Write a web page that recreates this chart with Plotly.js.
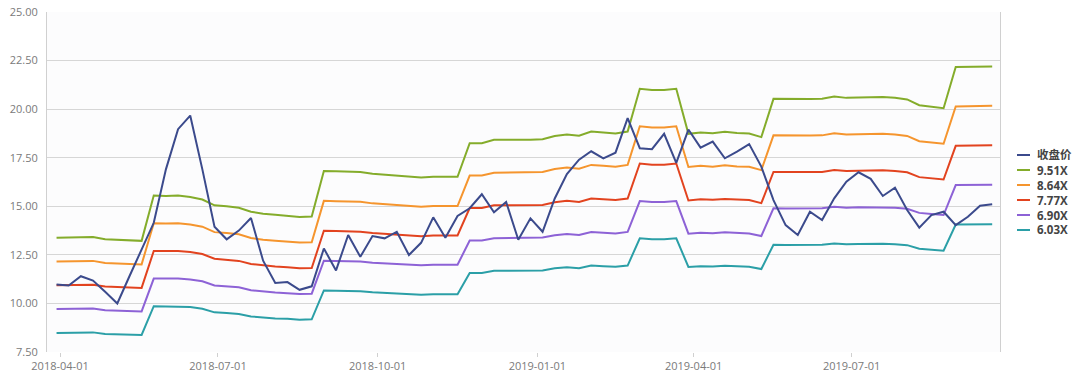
<!DOCTYPE html>
<html>
<head>
<meta charset="utf-8">
<script src="https://cdn.plot.ly/plotly-3.0.1.min.js"></script>
<style>html,body{margin:0;padding:0;background:#fff;}#chart{width:1080px;height:377px;}</style>
</head>
<body>
<div id="chart"></div>
<script>
const dates = ["2018-03-30","2018-04-06","2018-04-13","2018-04-20","2018-04-27","2018-05-04","2018-05-11","2018-05-18","2018-05-25","2018-06-01",
"2018-06-08","2018-06-15","2018-06-22","2018-06-29","2018-07-06","2018-07-13","2018-07-20","2018-07-27","2018-08-03","2018-08-10",
"2018-08-17","2018-08-24","2018-08-31","2018-09-07","2018-09-14","2018-09-21","2018-09-28","2018-10-05","2018-10-12","2018-10-19",
"2018-10-26","2018-11-02","2018-11-09","2018-11-16","2018-11-23","2018-11-30","2018-12-07","2018-12-14","2018-12-21","2018-12-28",
"2019-01-04","2019-01-11","2019-01-18","2019-01-25","2019-02-01","2019-02-08","2019-02-15","2019-02-22","2019-03-01","2019-03-08",
"2019-03-15","2019-03-22","2019-03-29","2019-04-05","2019-04-12","2019-04-19","2019-04-26","2019-05-03","2019-05-10","2019-05-17",
"2019-05-24","2019-05-31","2019-06-07","2019-06-14","2019-06-21","2019-06-28","2019-07-05","2019-07-12","2019-07-19","2019-07-26",
"2019-08-02","2019-08-09","2019-08-16","2019-08-23","2019-08-30","2019-09-06","2019-09-13","2019-09-20"];

const closePrice = [10.98,10.92,11.40,11.18,10.60,10.00,11.40,12.75,14.15,16.90,18.97,19.67,16.90,13.95,13.30,13.75,14.40,12.20,11.05,11.10,
10.70,10.88,12.83,11.70,13.52,12.40,13.47,13.35,13.69,12.49,13.12,14.43,13.38,14.50,14.90,15.62,14.69,15.22,13.28,14.38,
13.69,15.40,16.66,17.40,17.83,17.47,17.76,19.54,17.99,17.94,18.73,17.23,18.95,18.02,18.33,17.47,17.81,18.20,17.04,15.32,
14.03,13.52,14.72,14.29,15.41,16.27,16.75,16.41,15.53,15.96,14.81,13.90,14.55,14.72,14.03,14.46,15.03,15.10];

const pe951 = [13.38,13.40,13.42,13.42,13.30,13.27,13.27,13.22,15.55,15.53,15.55,15.48,15.35,15.05,15.00,14.92,14.72,14.62,14.56,14.52,
14.45,14.47,16.82,16.80,16.78,16.76,16.68,16.63,16.58,16.53,16.48,16.52,16.52,16.52,18.25,18.25,18.42,18.42,18.41,18.42,
18.45,18.62,18.70,18.63,18.85,18.80,18.75,18.85,21.05,20.98,20.98,21.05,18.73,18.80,18.76,18.83,18.77,18.75,18.56,20.53,
20.52,20.52,20.52,20.53,20.65,20.58,20.60,20.61,20.62,20.58,20.50,20.20,20.12,20.05,22.17,22.17,22.18,22.20];

const pe864 = [12.16,12.17,12.19,12.19,12.08,12.06,12.06,12.01,14.13,14.11,14.13,14.06,13.95,13.67,13.63,13.56,13.37,13.28,13.23,13.19,
13.13,13.15,15.28,15.26,15.25,15.23,15.15,15.11,15.06,15.02,14.97,15.01,15.01,15.01,16.58,16.58,16.73,16.73,16.73,16.73,
16.76,16.92,16.99,16.93,17.13,17.08,17.03,17.13,19.12,19.06,19.06,19.12,17.02,17.08,17.04,17.11,17.05,17.03,16.86,18.65,
18.64,18.64,18.64,18.65,18.76,18.70,18.72,18.72,18.73,18.70,18.62,18.35,18.28,18.22,20.14,20.14,20.15,20.17];

const pe777 = [10.93,10.95,10.96,10.96,10.87,10.84,10.84,10.80,12.70,12.69,12.70,12.65,12.54,12.30,12.26,12.19,12.03,11.95,11.90,11.86,
11.81,11.82,13.74,13.73,13.71,13.69,13.63,13.59,13.55,13.51,13.46,13.50,13.50,13.50,14.91,14.91,15.05,15.05,15.04,15.05,
15.07,15.21,15.28,15.22,15.40,15.36,15.32,15.40,17.20,17.14,17.14,17.20,15.30,15.36,15.33,15.38,15.34,15.32,15.16,16.77,
16.77,16.77,16.77,16.77,16.87,16.81,16.83,16.84,16.85,16.81,16.75,16.50,16.44,16.38,18.11,18.11,18.12,18.14];

const pe690 = [9.71,9.72,9.74,9.74,9.65,9.63,9.63,9.59,11.28,11.27,11.28,11.23,11.14,10.92,10.88,10.83,10.68,10.61,10.56,10.53,
10.48,10.50,12.20,12.19,12.17,12.16,12.10,12.07,12.03,11.99,11.96,11.99,11.99,11.99,13.24,13.24,13.36,13.36,13.36,13.36,
13.39,13.51,13.57,13.52,13.68,13.64,13.60,13.68,15.27,15.22,15.22,15.27,13.59,13.64,13.61,13.66,13.62,13.60,13.47,14.90,
14.89,14.89,14.89,14.90,14.98,14.93,14.95,14.95,14.96,14.93,14.87,14.66,14.60,14.55,16.09,16.09,16.09,16.11];

const pe603 = [8.48,8.50,8.51,8.51,8.43,8.41,8.41,8.38,9.86,9.85,9.86,9.82,9.73,9.54,9.51,9.46,9.33,9.27,9.23,9.21,
9.16,9.18,10.67,10.65,10.64,10.63,10.58,10.54,10.51,10.48,10.45,10.47,10.47,10.47,11.57,11.57,11.68,11.68,11.67,11.68,
11.70,11.81,11.86,11.81,11.95,11.92,11.89,11.95,13.35,13.30,13.30,13.35,11.88,11.92,11.90,11.94,11.90,11.89,11.77,13.02,
13.01,13.01,13.01,13.02,13.09,13.05,13.06,13.07,13.07,13.05,13.00,12.81,12.76,12.71,14.06,14.06,14.06,14.08];

const seriesNames = ["收盘价","9.51X","8.64X","7.77X","6.90X","6.03X"];
const xTickVals = ["2018-04-01","2018-07-01","2018-10-01","2019-01-01","2019-04-01","2019-07-01"];
const yTickVals = [7.5,10,12.5,15,17.5,20,22.5,25];

const colors = ["#3b4a8c","#84ac2b","#f5952e","#e2431f","#8d62d6","#2b9fa7"];
const values = [closePrice, pe951, pe864, pe777, pe690, pe603];

const traces = [];
for (let i = 5; i >= 0; i--) {
  traces.push({
    x: dates, y: values[i], name: seriesNames[i], type: "scatter", mode: "lines",
    line: {color: colors[i], width: 2}, showlegend: false, hoverinfo: "x+y+name"
  });
}

// custom legend (pixel layout: plot area spans 47..1000 x, 12..352 y)
const L = 47, W = 953, T = 12, H = 340;
const px = v => (v - L) / W;
const py = v => (T + H - v) / H;
const shapes = [], annotations = [];
const legTop = 155, legGap = 15;
seriesNames.forEach((n, i) => {
  const yy = py(legTop + i * legGap);
  shapes.push({type: "line", xref: "paper", yref: "paper", x0: px(1017), x1: px(1030), y0: yy, y1: yy,
    line: {color: colors[i], width: 2}});
  annotations.push({xref: "paper", yref: "paper", x: px(1036), y: yy, xanchor: "left", yanchor: "middle",
    text: "<b>" + n + "</b>", showarrow: false, borderpad: 0,
    font: {family: "'Open Sans', 'Noto Sans CJK SC', sans-serif", size: 11.5, color: "#444"}});
});

const layout = {
  width: 1080, height: 377,
  margin: {l: 47, r: 80, t: 12, b: 25, pad: 0},
  paper_bgcolor: "#ffffff", plot_bgcolor: "#fcfcfd",
  font: {family: "'Open Sans', 'Noto Sans CJK SC', sans-serif", size: 11, color: "#7a7a7a"},
  showlegend: false,
  xaxis: {
    type: "date", range: ["2018-03-24 12:00", "2019-09-24 12:00"],
    tickvals: xTickVals, ticktext: xTickVals,
    showgrid: false, zeroline: false, showline: false,
    ticks: "outside", ticklen: 4, tickcolor: "#d0d0d0",
    tickfont: {size: 11, color: "#7a7a7a"}
  },
  yaxis: {
    range: [7.5, 25], tickvals: yTickVals, tickformat: ".2f",
    showgrid: true, gridcolor: "#d6d6d6", gridwidth: 1, zeroline: false,
    showline: true, linecolor: "#d0d0d0", linewidth: 1, mirror: true,
    ticks: "", ticklabelstandoff: 6,
    tickfont: {size: 11, color: "#7a7a7a"}
  },
  shapes: shapes, annotations: annotations
};

Plotly.newPlot("chart", traces, layout, {displayModeBar: false, staticPlot: true});
</script>
</body>
</html>
